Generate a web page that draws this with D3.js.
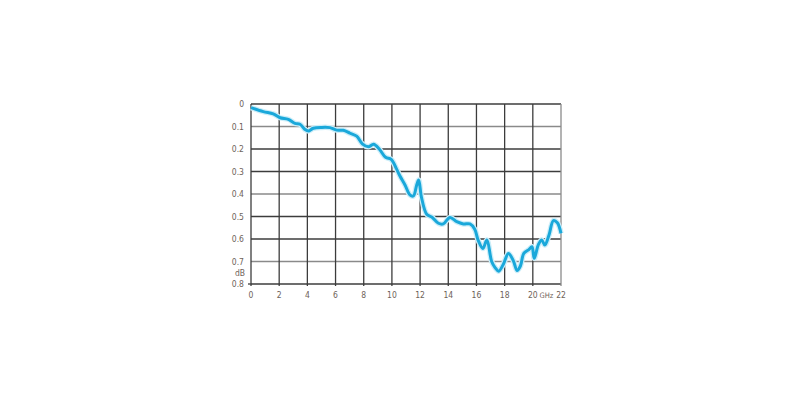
<!DOCTYPE html>
<meta charset="utf-8">
<script src="https://d3js.org/d3.v7.min.js"></script>
<style>
  body { margin: 0; background: #fff; }
  .lbl { font-family: "DejaVu Sans Condensed", "DejaVu Sans", sans-serif; font-stretch: condensed; font-size: 8.5px; fill: #6e6259; }
</style>
<div id="my_dataviz"></div>
<script>
// frequency (GHz) and loss (dB)
const freq = [0, 0.87, 1.58, 2.06, 2.65, 3.12, 3.48, 3.83, 4.07, 4.42, 5.0, 5.6, 6.08, 6.55, 7.03, 7.5, 7.9,
  8.33, 8.7, 9.1, 9.55, 9.95, 10.3, 10.57, 10.93, 11.28, 11.52, 11.76, 11.9, 12.1, 12.47, 12.85, 13.3, 13.65,
  14.12, 14.6, 15.07, 15.54, 15.88, 16.13, 16.46, 16.74, 17.08, 17.32, 17.58, 17.91, 18.27, 18.62, 18.88,
  19.12, 19.36, 19.72, 19.94, 20.1, 20.4, 20.63, 20.85, 21.15, 21.46, 21.74, 22];
const loss = [0.016, 0.034, 0.044, 0.061, 0.068, 0.086, 0.09, 0.113, 0.12, 0.108, 0.104, 0.105, 0.116, 0.117,
  0.13, 0.143, 0.177, 0.19, 0.179, 0.2, 0.237, 0.246, 0.285, 0.32, 0.36, 0.404, 0.409, 0.36, 0.338, 0.415,
  0.49, 0.503, 0.53, 0.533, 0.504, 0.523, 0.533, 0.533, 0.557, 0.607, 0.642, 0.604, 0.7, 0.727, 0.743, 0.712,
  0.664, 0.697, 0.74, 0.72, 0.664, 0.647, 0.634, 0.686, 0.624, 0.604, 0.627, 0.582, 0.518, 0.528, 0.575];
const xTicks = [0, 2, 4, 6, 8, 10, 12, 14, 16, 18, 20, 22];
const yTicks = [0, 0.1, 0.2, 0.3, 0.4, 0.5, 0.6, 0.7, 0.8];

const margin = {top: 104, right: 239, bottom: 116, left: 251},
    width = 800 - margin.left - margin.right,
    height = 400 - margin.top - margin.bottom;

const svg = d3.select("#my_dataviz")
  .append("svg")
    .attr("width", 800)
    .attr("height", 400)
  .append("g")
    .attr("transform", `translate(${margin.left},${margin.top})`);

const x = d3.scaleLinear().domain([0, 22]).range([0, width]);
const y = d3.scaleLinear().domain([0, 0.8]).range([0, height]);

// grid
svg.selectAll("hline")
  .data(yTicks)
  .join("line")
    .attr("x1", 0).attr("x2", width)
    .attr("y1", d => y(d)).attr("y2", d => y(d))
    .attr("stroke", d => [0.1, 0.4, 0.7].includes(d) ? "#8a8a8a" : "#3c3c3c")
    .attr("stroke-width", 1.3);
svg.selectAll("vline")
  .data(xTicks)
  .join("line")
    .attr("x1", d => x(d)).attr("x2", d => x(d))
    .attr("y1", 0).attr("y2", height + 2)
    .attr("stroke", d => d === 22 ? "#8a8a8a" : "#3c3c3c")
    .attr("stroke-width", 1.3);
// small tick at bottom-left
svg.append("line")
  .attr("x1", -3).attr("x2", 0)
  .attr("y1", y(0.8)).attr("y2", y(0.8))
  .attr("stroke", "#3c3c3c").attr("stroke-width", 1.3);

// labels
svg.selectAll("ylab")
  .data(yTicks)
  .join("text")
    .attr("class", "lbl")
    .attr("x", -7)
    .attr("y", d => y(d) + 3)
    .attr("text-anchor", "end")
    .text(d => d === 0 ? "0" : d3.format(".1f")(d));
svg.append("text")
  .attr("class", "lbl")
  .attr("x", -11)
  .attr("y", y(0.75) + 3)
  .attr("text-anchor", "middle")
  .text("dB");
svg.selectAll("xlab")
  .data(xTicks)
  .join("text")
    .attr("class", "lbl")
    .attr("x", d => x(d))
    .attr("y", height + 14)
    .attr("text-anchor", "middle")
    .text(d => d);
svg.append("text")
  .attr("class", "lbl")
  .attr("x", x(21) - 0.5)
  .attr("y", height + 14)
  .attr("text-anchor", "middle")
  .style("font-size", "7.5px")
  .text("GHz");

// curve
const pts = freq.map((f, i) => [f, loss[i]]);
const line = d3.line().x(d => x(d[0])).y(d => y(d[1])).curve(d3.curveCatmullRom);
svg.append("path")
  .datum(pts)
  .attr("fill", "none")
  .attr("stroke", "#cdeef9")
  .attr("stroke-width", 5.5)
  .attr("d", line);
svg.append("path")
  .datum(pts)
  .attr("fill", "none")
  .attr("stroke", "#1aa8da")
  .attr("stroke-width", 3)
  .attr("stroke-linejoin", "round")
  .attr("d", line);
</script>
